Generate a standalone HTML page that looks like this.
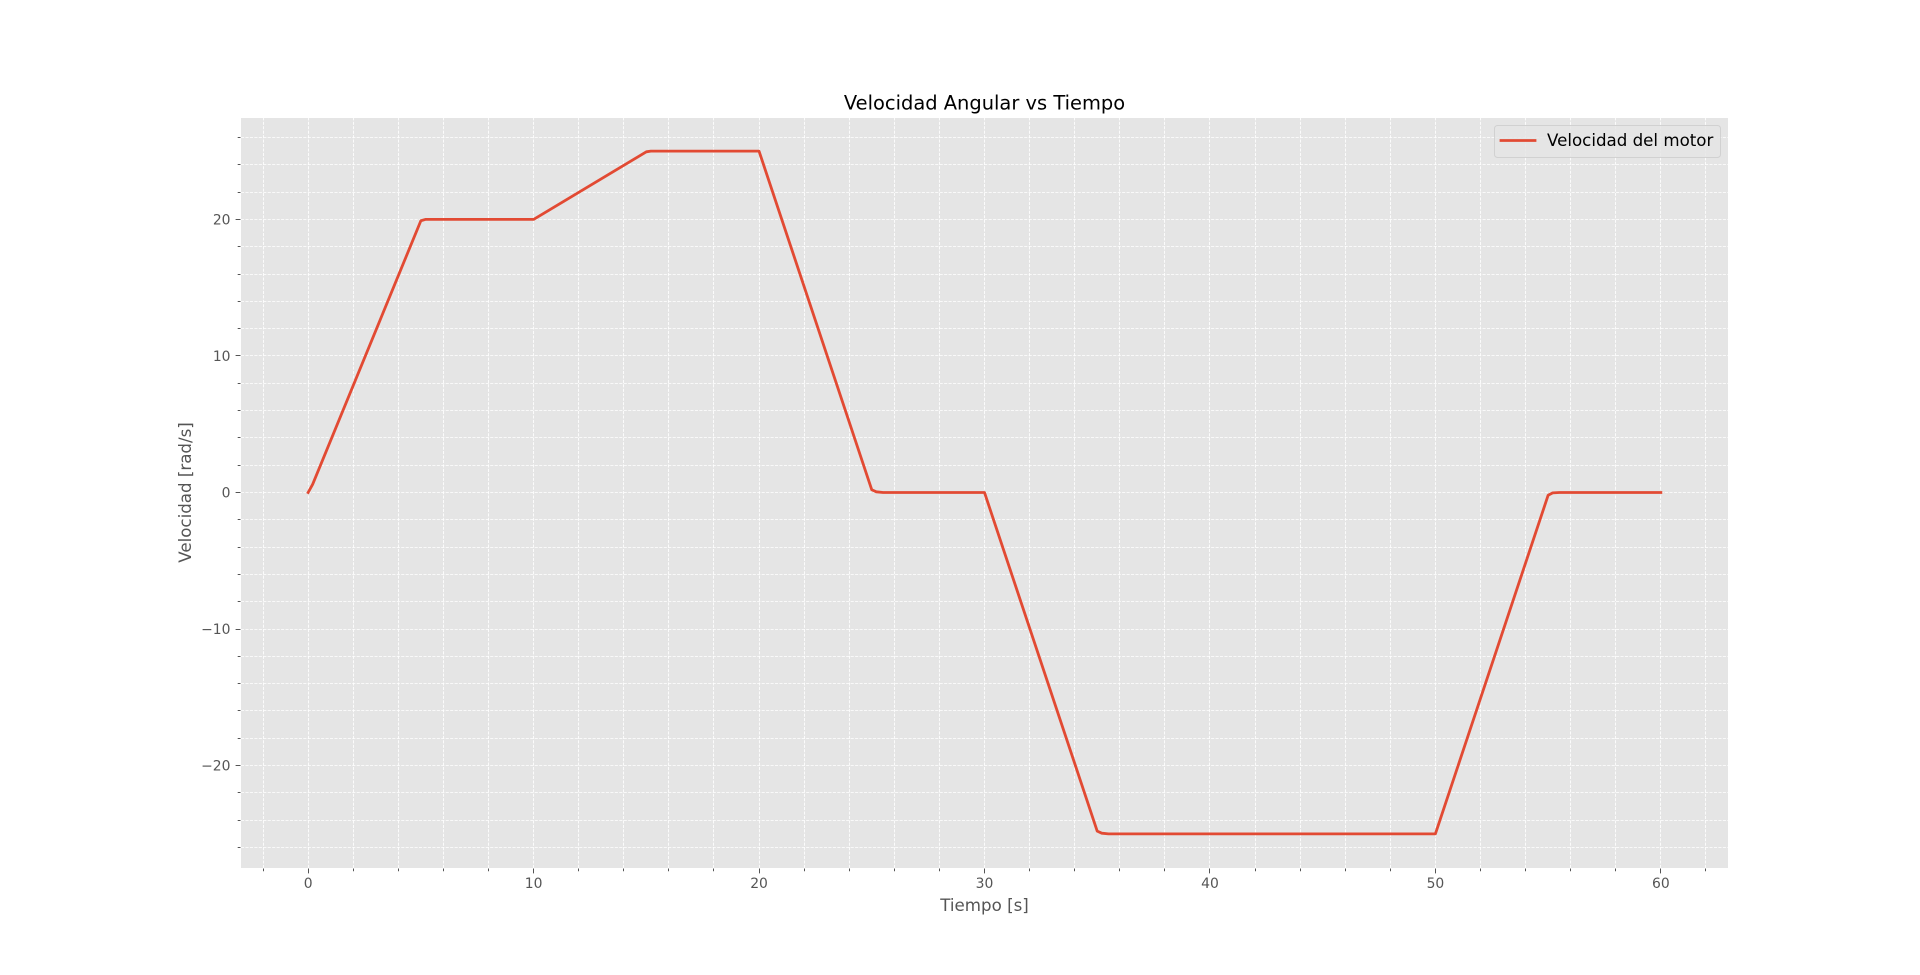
<!DOCTYPE html>
<html lang="es">
<head>
<meta charset="utf-8">
<title>Velocidad Angular vs Tiempo</title>
<style>
html,body{margin:0;padding:0;background:#fff;width:1920px;height:975px;overflow:hidden}
svg{display:block}
text{font-family:"DejaVu Sans","Liberation Sans",sans-serif}
</style>
</head>
<body>
<svg id="chart" xmlns="http://www.w3.org/2000/svg" width="1920" height="975" viewBox="0 0 1920 975">
  <rect x="241" y="118" width="1487" height="750" fill="#E5E5E5"/>
  <g id="grid" stroke="#fff" stroke-width="0.85" stroke-dasharray="3.1 1.35" fill="none"></g>
  <g id="ticks" stroke="#555" stroke-width="1" fill="none"></g>
  <g id="tick-labels" fill="#555" font-size="13.9"></g>
  <path id="series" fill="none" stroke="#E24A33" stroke-width="2.8" stroke-linejoin="round" stroke-linecap="square"/>
  <text x="984.5" y="109.5" text-anchor="middle" font-size="19.44" fill="#000">Velocidad Angular vs Tiempo</text>
  <text x="984.5" y="911" text-anchor="middle" font-size="16.67" fill="#555">Tiempo [s]</text>
  <text transform="translate(191 492.5) rotate(-90)" text-anchor="middle" font-size="16.67" fill="#555">Velocidad [rad/s]</text>
  <g>
    <rect x="1494.5" y="125.5" width="226" height="32" rx="3" ry="3" fill="#E5E5E5" fill-opacity="0.8" stroke="#CCCCCC" stroke-opacity="0.8" stroke-width="1"/>
    <line x1="1501" y1="140.5" x2="1535" y2="140.5" stroke="#E24A33" stroke-width="2.8" stroke-linecap="square"/>
    <text x="1547" y="146" font-size="16.67" fill="#000">Velocidad del motor</text>
  </g>
</svg>
<script>
var timeValues = [0, 0.2, 5, 5.2, 5.5, 10, 15, 15.2, 20, 20.1, 25, 25.2, 25.5, 30, 30.1, 35, 35.2, 35.5, 50, 50.1, 55, 55.2, 55.5, 60];
var velocityValues = [0, 0.6, 19.9, 20, 20, 20, 24.95, 25, 25, 24.5, 0.2, 0.05, 0, 0, -0.5, -24.8, -24.95, -25, -25, -24.5, -0.2, -0.03, 0, 0];
var xMajorTicks = [0, 10, 20, 30, 40, 50, 60];
var xMinorTicks = [-2, 2, 4, 6, 8, 12, 14, 16, 18, 22, 24, 26, 28, 32, 34, 36, 38, 42, 44, 46, 48, 52, 54, 56, 58, 62];
var yMajorTicks = [-20, -10, 0, 10, 20];
var yMinorTicks = [-26, -24, -22, -18, -16, -14, -12, -8, -6, -4, -2, 2, 4, 6, 8, 12, 14, 16, 18, 22, 24, 26];
var xDomain = [-3, 63];
var yDomain = [-27.5, 27.5];

var NS = 'http://www.w3.org/2000/svg';
var plotLeft = 240.5, plotRight = 1728.5, plotTop = 117, plotBottom = 868;
var edgeLeft = 241, edgeTop = 118;
function xScale(v) { return plotLeft + (v - xDomain[0]) / (xDomain[1] - xDomain[0]) * (plotRight - plotLeft); }
function yScale(v) { return plotBottom - (v - yDomain[0]) / (yDomain[1] - yDomain[0]) * (plotBottom - plotTop); }
function snap(p) { return Math.floor(p) + 0.5; }
function makeLine(x1, y1, x2, y2) {
  var el = document.createElementNS(NS, 'line');
  el.setAttribute('x1', x1);
  el.setAttribute('y1', y1);
  el.setAttribute('x2', x2);
  el.setAttribute('y2', y2);
  return el;
}
function fmt(v) { return v < 0 ? '\u2212' + Math.abs(v) : String(v); }

var grid = document.getElementById('grid');
var ticks = document.getElementById('ticks');
var labels = document.getElementById('tick-labels');

xMajorTicks.concat(xMinorTicks).forEach(function (v) {
  var major = xMajorTicks.indexOf(v) >= 0;
  var x = snap(xScale(v));
  var g = makeLine(x, plotBottom, x, edgeTop);
  
  
  grid.appendChild(g);
  var t = makeLine(x, plotBottom + 0.5, x, plotBottom + (major ? 5.4 : 3.3));
  
  
  ticks.appendChild(t);
});
yMajorTicks.concat(yMinorTicks).forEach(function (v) {
  var major = yMajorTicks.indexOf(v) >= 0;
  var y = snap(yScale(v));
  var g = makeLine(edgeLeft, y, 1728, y);
  
  
  grid.appendChild(g);
  var t = makeLine(edgeLeft - 0.5, y, edgeLeft - (major ? 5.4 : 3.3), y);
  
  
  ticks.appendChild(t);
});
xMajorTicks.forEach(function (v) {
  var el = document.createElementNS(NS, 'text');
  el.setAttribute('x', xScale(v));
  el.setAttribute('y', 888);
  el.setAttribute('text-anchor', 'middle');
  el.textContent = fmt(v);
  
  
  labels.appendChild(el);
});
yMajorTicks.forEach(function (v) {
  var el = document.createElementNS(NS, 'text');
  el.setAttribute('x', 230.5);
  el.setAttribute('y', yScale(v) + 5);
  el.setAttribute('text-anchor', 'end');
  el.textContent = fmt(v);
  
  
  labels.appendChild(el);
});
var d = timeValues.map(function (t, i) {
  return (i ? 'L' : 'M') + xScale(t).toFixed(2) + ' ' + yScale(velocityValues[i]).toFixed(2);
}).join(' ');
document.getElementById('series').setAttribute('d', d);
</script>
</body>
</html>
